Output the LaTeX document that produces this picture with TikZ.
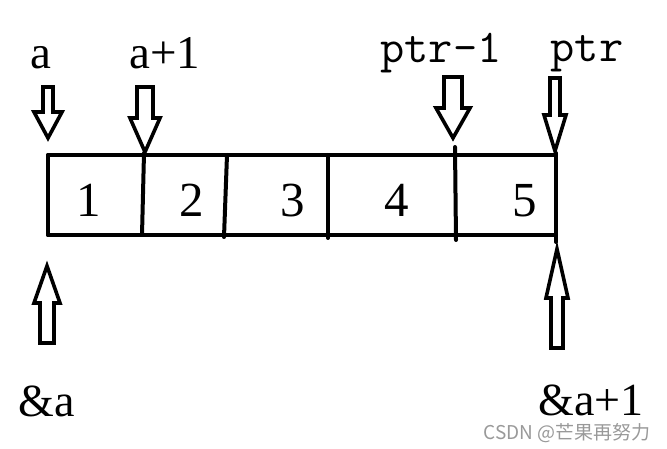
\documentclass[tikz,border=0pt]{standalone}
\usepackage{fontspec}
\setmainfont{Liberation Serif}
\newfontfamily\cjk{Noto Sans CJK SC}
\newcommand{\blockarr}[6]{% cx, tip y, shoulder y, end y, shaft half width, head half width
  \draw[arrowline] ({#1-#5},#4) -- ({#1+#5},#4) -- ({#1+#5},#3) -- ({#1+#6},#3) -- (#1,#2) -- ({#1-#6},#3) -- ({#1-#5},#3) -- cycle;}
\tikzset{
  arrowline/.style={line width=3.6pt, line join=miter, miter limit=10, fill=white},
  boxline/.style={line width=4pt, line cap=round},
  lbl/.style={inner sep=0pt, anchor=base, font=\fontsize{47}{52}\selectfont},
  ptrlbl/.style={inner sep=0pt, anchor=base, font=\ttfamily\fontsize{47}{52}\selectfont},
  digit/.style={inner sep=0pt, anchor=base, font=\fontsize{49}{55}\selectfont},
  addrlbl/.style={inner sep=0pt, anchor=base, text depth=0pt, font=\fontsize{46}{52}\selectfont},
  wm/.style={inner sep=0pt, text=black!40, font=\cjk\fontsize{19}{21}\selectfont}
}
\begin{document}
\begin{tikzpicture}[x=1pt,y=-1pt]
\useasboundingbox (0,0) rectangle (667,449);
% array box
\draw[boxline] (48,155) -- (556,155);
\draw[boxline] (48,235) -- (556,235);
\draw[boxline] (48,155) -- (48,235);
\draw[boxline] (556,153) -- (556,242);
\draw[boxline] (144,153) -- (142,235);
\draw[boxline] (227,155) -- (224,237);
\draw[boxline] (328,155) -- (328,238);
\draw[boxline] (455,147) -- (456,240);
% cells
\node[digit] (c1) at (89,217) {1};
\node[digit] (c2) at (192,217) {2};
\node[digit] (c3) at (293,217) {3};
\node[digit] (c4) at (397,217) {4};
\node[digit] (c5) at (525,217) {5};
% top labels
\node[lbl] (la) at (41,69) {a};
\node[lbl] (la1) at (165,69) {a+1};
\node[ptrlbl] (lp1) at (441,63) {ptr-1};
\node[ptrlbl] (lp) at (587,62) {ptr};
% down arrows
\blockarr{48}{138}{112}{87}{5}{14}
\blockarr{145}{152}{118}{87}{8}{15}
\blockarr{453}{138}{108}{77}{9}{17}
\blockarr{555}{151}{115}{78}{5}{11}
% up arrows
\blockarr{47}{266}{303}{343}{7}{13}
\blockarr{557}{249}{298}{348}{6}{11}
% bottom labels
\node[addrlbl] (ba) at (47,416) {\&a};
\node[addrlbl] (ba1) at (591,415) {\&a+1};
\node[wm] (wm) at (567,433) {CSDN @芒果再努力};
\end{tikzpicture}
\end{document}
